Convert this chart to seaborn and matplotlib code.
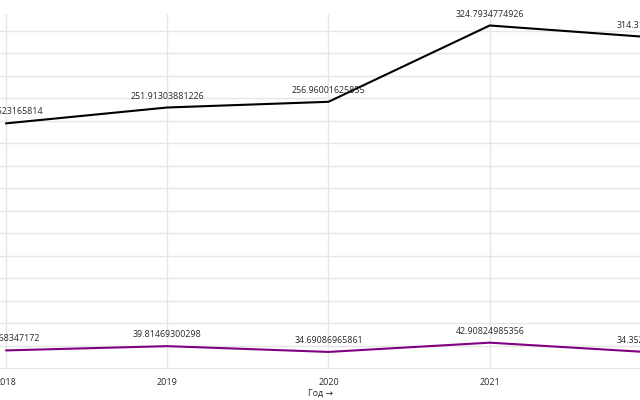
import pandas as pd
import matplotlib.pyplot as plt
import seaborn as sns

# ── DATA ──────────────────────────────────────────────
years = [2018, 2019, 2020, 2021, 2022]
total_values = [237.79523165814, 251.91303881226, 256.96001625855, 324.7934774926, 314.3172941832]
total_labels = ["237.79523165814", "251.91303881226", "256.96001625855", "324.7934774926", "314.3172941832"]
part_values = [36.02968347172, 39.81469300298, 34.69086965861, 42.90824985356, 34.35218457301]
part_labels = ["36.02968347172", "39.81469300298", "34.69086965861", "42.90824985356", "34.35218457301"]

df = pd.DataFrame({
    "Год": years * 2,
    "value": total_values + part_values,
    "series": ["total"] * 5 + ["part"] * 5,
})

# ── STYLE ─────────────────────────────────────────────
sns.set_style("white")
plt.rcParams["font.family"] = ["Open Sans", "DejaVu Sans"]

fig = plt.figure(figsize=(6.4, 4.0), dpi=100)
ax = fig.add_axes([0.0, 0.08, 1.0, 0.885])

sns.lineplot(data=df, x="Год", y="value", hue="series",
             palette={"total": "black", "part": "#800080"},
             linewidth=1.5, legend=False, ax=ax, zorder=3)

# data labels (points past the right edge still get their label)
for x, y, t in zip(years, total_values, total_labels):
    ax.annotate(t, (x, y), xytext=(0, 5), textcoords="offset points",
                ha="center", va="bottom", fontsize=6.4, color="#2a2a2a",
                annotation_clip=False)
for x, y, t in zip(years, part_values, part_labels):
    ax.annotate(t, (x, y), xytext=(0, 5), textcoords="offset points",
                ha="center", va="bottom", fontsize=6.4, color="#2a2a2a",
                annotation_clip=False)

# ticks first, then limits (set_xticks would widen the view)
ax.set_xticks(years)
ax.set_yticks(range(40, 340, 20))
ax.set_yticklabels([])
ax.set_xlim(2017.963, 2021.932)
ax.set_ylim(20.4, 335)
ax.grid(True, color="#e6e6e6", linewidth=1)
ax.set_axisbelow(True)

for side in ["top", "right", "left"]:
    ax.spines[side].set_visible(False)
ax.spines["bottom"].set_color("#e6e6e6")

ax.tick_params(axis="x", length=5, width=1, color="#444444", labelsize=6.5,
               labelcolor="#2a2a2a", pad=2)
ax.tick_params(axis="y", length=0)
ax.set_xlabel("Год →", fontsize=6.5, color="#2a2a2a", labelpad=1)
ax.set_ylabel("")

plt.savefig("out.png", dpi=100)
